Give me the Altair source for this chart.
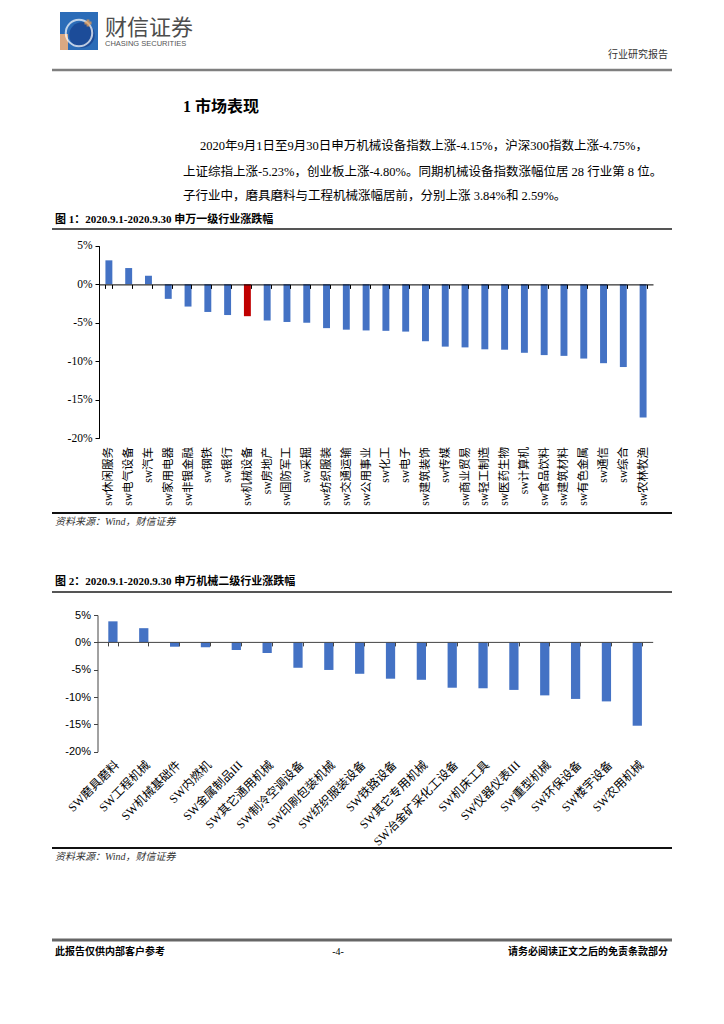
import altair as alt
import pandas as pd

W, H = 708, 1008
SERIF = "Liberation Serif, Noto Sans CJK SC"
CJK = "Noto Sans CJK SC"
SANS = "Liberation Sans, Noto Sans CJK SC"

# ---------------- data ----------------
cats1 = ["sw休闲服务", "sw电气设备", "sw汽车", "sw家用电器", "sw非银金融", "sw钢铁", "sw银行",
         "sw机械设备", "sw房地产", "sw国防军工", "sw采掘", "sw纺织服装", "sw交通运输", "sw公用事业",
         "sw化工", "sw电子", "sw建筑装饰", "sw传媒", "sw商业贸易", "sw轻工制造", "sw医药生物",
         "sw计算机", "sw食品饮料", "sw建筑材料", "sw有色金属", "sw通信", "sw综合", "sw农林牧渔"]
vals1 = [3.1, 2.1, 1.1, -1.9, -2.9, -3.6, -4.0,
         -4.15, -4.7, -4.9, -5.0, -5.7, -5.9, -6.0,
         -6.05, -6.15, -7.4, -8.1, -8.2, -8.45, -8.5,
         -8.9, -9.2, -9.3, -9.65, -10.25, -10.75, -17.3]
highlight1 = "sw机械设备"

cats2 = ["SW磨具磨料", "SW工程机械", "SW机械基础件", "SW内燃机", "SW金属制品III", "SW其它通用机械",
         "SW制冷空调设备", "SW印刷包装机械", "SW纺织服装设备", "SW铁路设备", "SW其它专用机械",
         "SW冶金矿采化工设备", "SW机床工具", "SW仪器仪表III", "SW重型机械", "SW环保设备",
         "SW楼宇设备", "SW农用机械"]
vals2 = [3.84, 2.59, -0.8, -0.9, -1.4, -1.95,
         -4.65, -5.05, -5.75, -6.65, -6.85,
         -8.3, -8.4, -8.7, -9.7, -10.35,
         -10.8, -15.25]

yticks = [5, 0, -5, -10, -15, -20]

header_logo = "财信证券"
header_logo_en = "CHASING SECURITIES"
header_right = "行业研究报告"
section_title = "1 市场表现"
para = [
    "2020年9月1日至9月30日申万机械设备指数上涨-4.15%，沪深300指数上涨-4.75%，",
    "上证综指上涨-5.23%，创业板上涨-4.80%。同期机械设备指数涨幅位居 28 行业第 8 位。",
    "子行业中，磨具磨料与工程机械涨幅居前，分别上涨 3.84%和 2.59%。",
]
cap1 = "图 1：2020.9.1-2020.9.30 申万一级行业涨跌幅"
cap2 = "图 2：2020.9.1-2020.9.30 申万机械二级行业涨跌幅"
source = "资料来源：Wind，财信证券"
footer_left = "此报告仅供内部客户参考"
footer_mid = "-4-"
footer_right = "请务必阅读正文之后的免责条款部分"

df1 = pd.DataFrame({"cat": cats1, "v": vals1,
                    "hl": ["h" if c == highlight1 else "n" for c in cats1]})
df2 = pd.DataFrame({"cat": cats2, "v": vals2})
one = pd.DataFrame({"a": [0]})


def text_layer(s, x, y, size, align="left", font=SERIF, weight="normal",
               style="normal", color="#000"):
    return alt.Chart(pd.DataFrame({"t": [s]})).mark_text(
        align=align, baseline="middle", fontSize=size, font=font,
        fontWeight=weight, fontStyle=style, color=color
    ).encode(x=alt.value(x), y=alt.value(y), text="t:N")


def hline(x1, x2, y, w, color):
    return alt.Chart(one).mark_rule(strokeWidth=w, color=color).encode(
        x=alt.value(x1), x2=alt.value(x2), y=alt.value(y))


def rect(x1, x2, y1, y2, color):
    return alt.Chart(one).mark_rect(color=color).encode(
        x=alt.value(x1), x2=alt.value(x2), y=alt.value(y1), y2=alt.value(y2))


# ---------------- chart 1 ----------------
z1 = 276.4
bars1 = alt.Chart(df1).mark_bar().encode(
    x=alt.X("cat:N", sort=cats1, title=None,
            scale=alt.Scale(range=[91, 645], paddingInner=0.65, paddingOuter=0.325),
            axis=alt.Axis(orient="bottom", offset=z1 - H, labelAngle=-90,
                          labelAlign="right", labelBaseline="middle",
                          labelPadding=158, labelFont=SERIF, labelFontSize=11.5,
                          labelColor="#000", domainColor="#000", tickColor="#000",
                          tickSize=4, tickBand="extent", labelOverlap=False,
                          labelLimit=0, zindex=1)),
    y=alt.Y("v:Q", title=None,
            scale=alt.Scale(domain=[-20, 5], range=[430.3, 237.7], nice=False),
            axis=alt.Axis(orient="left", offset=-91, values=yticks,
                          labelExpr="datum.value + '%'",
                          grid=False, tickSize=4, labelPadding=3, labelFont=SERIF,
                          labelFontSize=11.5, domainColor="#000", tickColor="#000",
                          labelColor="#000")),
    color=alt.Color("hl:N", scale=alt.Scale(domain=["n", "h"],
                                            range=["#4472C4", "#C00000"]), legend=None),
)

# ---------------- chart 2 ----------------
z2 = 633.9
bars2 = alt.Chart(df2).mark_bar(color="#4472C4").encode(
    x=alt.X("cat:N", sort=cats2, title=None,
            scale=alt.Scale(range=[89.5, 644.7], paddingInner=0.7, paddingOuter=0.35),
            axis=alt.Axis(orient="bottom", offset=z2 - H, labelAngle=-45,
                          labelAlign="right", labelBaseline="top",
                          labelPadding=113, labelFont=SERIF, labelFontSize=12,
                          labelColor="#000", domainColor="#444", tickColor="#444",
                          tickSize=4, tickBand="extent", labelOverlap=False,
                          labelLimit=0, zindex=1)),
    y=alt.Y("v:Q", title=None,
            scale=alt.Scale(domain=[-20, 5], range=[743.7, 607.0], nice=False),
            axis=alt.Axis(orient="left", offset=-89.5, values=yticks,
                          labelExpr="datum.value + '%'",
                          grid=False, tickSize=4, labelPadding=3, labelFont=SANS,
                          labelFontSize=11, domainColor="#444", tickColor="#444",
                          labelColor="#000")),
)

# ---------------- page furniture ----------------
layers = [
    # logo
    rect(52, 90, 4, 42, "#2B6CB8"),
    rect(52, 60, 26, 42, "#D9A882"),
    alt.Chart(one).mark_point(shape="circle", filled=True, color="#173F8C", size=650).encode(
        x=alt.value(74), y=alt.value(27)),
    alt.Chart(one).mark_point(shape="circle", filled=False, color="#FFFFFF", size=700,
                              strokeWidth=2).encode(x=alt.value(71), y=alt.value(25)),
    alt.Chart(one).mark_point(shape="cross", filled=True, color="#F0A050", size=50).encode(
        x=alt.value(80), y=alt.value(15)),
    text_layer(header_logo, 97, 20, 22, font=CJK, color="#4D4D4D"),
    text_layer(header_logo_en, 97, 36, 7.5, font="Liberation Sans", color="#555"),
    text_layer(header_right, 660, 47, 10, align="right", font=CJK, color="#333"),
    hline(44, 664, 62, 2.5, "#7F7F7F"),
    # section
    text_layer(section_title, 175, 99, 16, weight="bold"),
    text_layer(para[0], 192, 138, 12.5),
    text_layer(para[1], 175, 164, 12.5),
    text_layer(para[2], 175, 188, 12.5),
    # figure 1
    text_layer(cap1, 47, 212, 11, weight="bold"),
    hline(44, 664, 221, 2, "#555"),
    bars1,
    hline(44, 664, 505, 1.8, "#111"),
    text_layer(source, 47, 514, 10, style="italic", color="#333"),
    # figure 2
    text_layer(cap2, 47, 574, 11, weight="bold"),
    hline(44, 664, 584, 2, "#555"),
    bars2,
    hline(44, 664, 840, 1.8, "#111"),
    text_layer(source, 47, 849, 10, style="italic", color="#333"),
    # footer
    hline(44, 664, 932, 3, "#666"),
    text_layer(footer_left, 47, 944, 10, weight="bold"),
    text_layer(footer_mid, 330, 944, 10, align="center"),
    text_layer(footer_right, 660, 944, 10, align="right", weight="bold"),
]

chart = alt.layer(*layers).resolve_scale(
    x="independent", y="independent", color="independent"
).properties(
    width=W, height=H, padding=0,
    autosize=alt.AutoSizeParams(type="none"),
).configure_view(stroke=None)

chart.save("out.html", embed_options={"renderer": "svg", "actions": False})
